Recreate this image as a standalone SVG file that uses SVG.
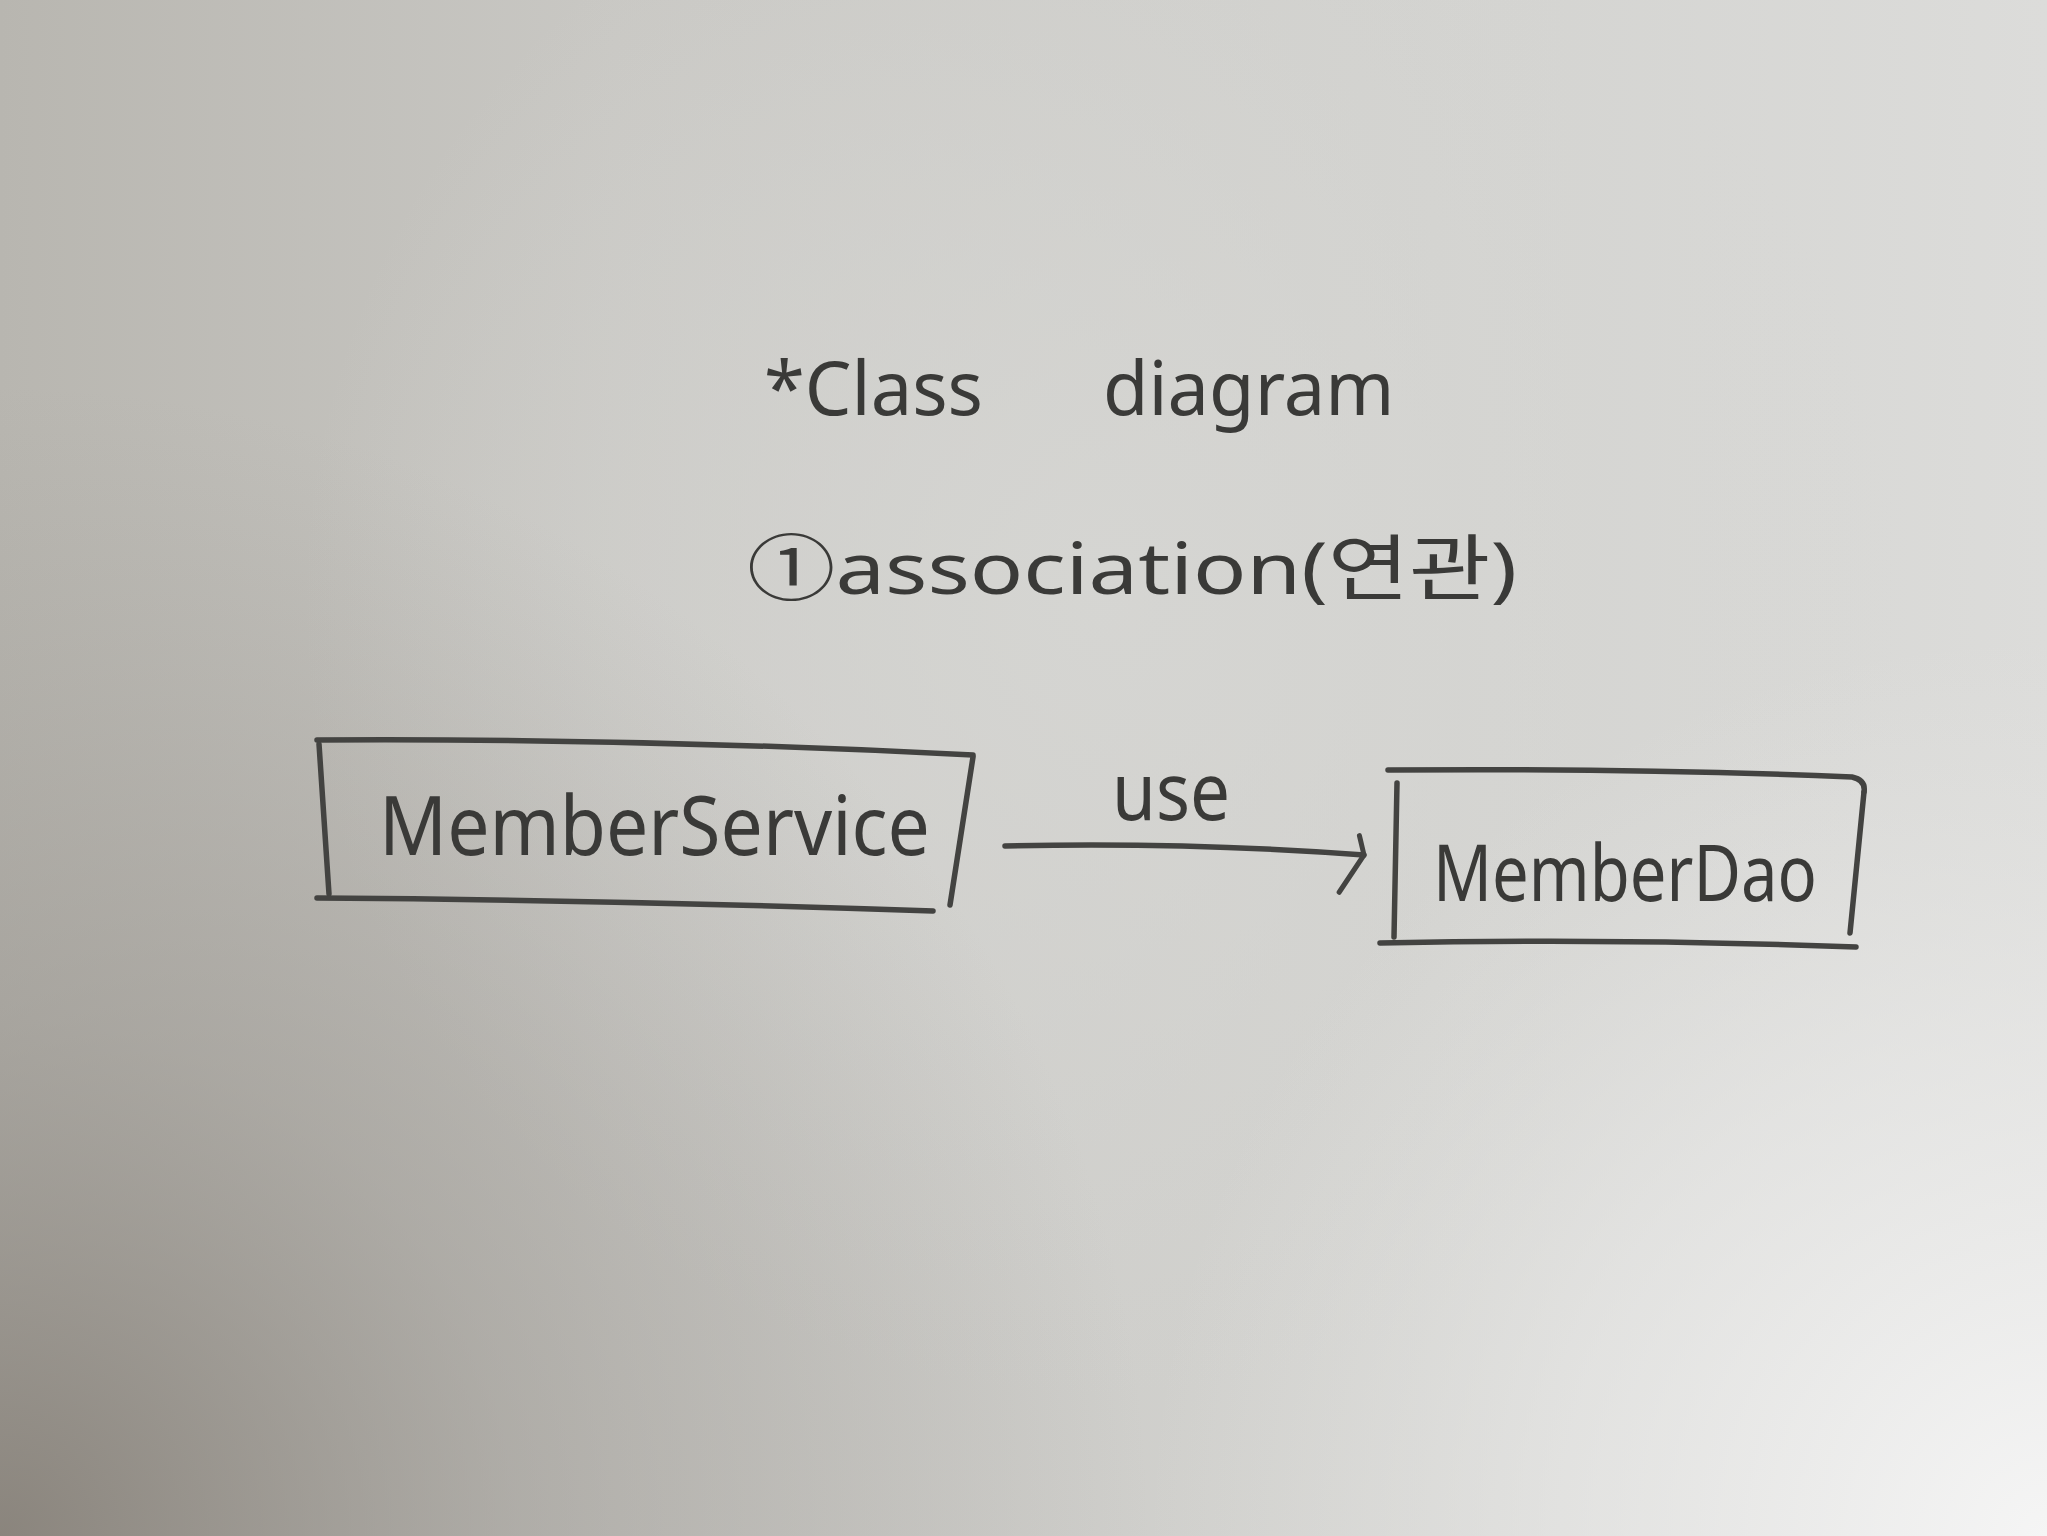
<svg xmlns="http://www.w3.org/2000/svg" width="2047" height="1536" viewBox="0 0 2047 1536">
  <defs>
    <linearGradient id="paper" x1="0" y1="0" x2="1" y2="0">
      <stop offset="0" stop-color="#b8b6b0"/>
      <stop offset="0.3" stop-color="#c9c8c4"/>
      <stop offset="0.7" stop-color="#d3d3d0"/>
      <stop offset="1" stop-color="#dcdcda"/>
    </linearGradient>
    <radialGradient id="shadeBL" cx="0" cy="1536" r="1150" gradientUnits="userSpaceOnUse">
      <stop offset="0" stop-color="#857f77" stop-opacity="0.9"/>
      <stop offset="0.45" stop-color="#938f89" stop-opacity="0.45"/>
      <stop offset="1" stop-color="#9a9792" stop-opacity="0"/>
    </radialGradient>
    <radialGradient id="lightBR" cx="2047" cy="1536" r="900" gradientUnits="userSpaceOnUse">
      <stop offset="0" stop-color="#f5f5f5" stop-opacity="1"/>
      <stop offset="0.55" stop-color="#ececeb" stop-opacity="0.55"/>
      <stop offset="1" stop-color="#e6e6e4" stop-opacity="0"/>
    </radialGradient>
    <radialGradient id="lightC" cx="1100" cy="600" r="800" gradientUnits="userSpaceOnUse">
      <stop offset="0" stop-color="#d6d6d3" stop-opacity="0.9"/>
      <stop offset="1" stop-color="#d6d6d3" stop-opacity="0"/>
    </radialGradient>
    <marker id="openArrow" markerUnits="userSpaceOnUse" markerWidth="60" markerHeight="80" refX="0" refY="0" viewBox="-40 -30 60 80" orient="auto" overflow="visible">
      <path d="M -6 -19 L 0 0 L -22 39" fill="none" stroke="#434341" stroke-width="5" stroke-linecap="round" stroke-linejoin="round"/>
    </marker>
    <style>
      .ink { fill: none; stroke: #434341; stroke-width: 5.5; stroke-linecap: round; stroke-linejoin: round; }
      .hand { fill: #3a3a38; font-family: "Noto Sans", "Liberation Sans", "Noto Sans CJK KR", sans-serif; }
    </style>
  </defs>

  <rect x="0" y="0" width="2047" height="1536" fill="url(#paper)"/>
  <rect x="0" y="0" width="2047" height="1536" fill="url(#lightC)"/>
  <rect x="0" y="0" width="2047" height="1536" fill="url(#shadeBL)"/>
  <rect x="0" y="0" width="2047" height="1536" fill="url(#lightBR)"/>

  <g id="title">
    <text class="hand" y="415" font-size="74"><tspan x="764">*Class</tspan><tspan x="1103">diagram</tspan></text>
    <text class="hand" x="747" y="594" font-size="72" textLength="770" lengthAdjust="spacingAndGlyphs">①association(연관)</text>
  </g>

  <g id="node-memberservice">
    <path class="ink" d="M 317 740 Q 640 738 973 755"/>
    <path class="ink" d="M 319 744 L 329 894"/>
    <path class="ink" d="M 973 757 L 950 905"/>
    <path class="ink" d="M 317 898 Q 620 900 933 911"/>
    <text class="hand" x="379" y="855" font-size="82" textLength="551" lengthAdjust="spacingAndGlyphs">MemberService</text>
  </g>

  <g id="node-memberdao">
    <path class="ink" d="M 1388 770 Q 1640 768 1852 777 Q 1866 780 1864 792"/>
    <path class="ink" d="M 1397 783 L 1394 937"/>
    <path class="ink" d="M 1864 792 L 1850 933"/>
    <path class="ink" d="M 1380 943 Q 1620 938 1856 947"/>
    <text class="hand" x="1433" y="901" font-size="78" textLength="384" lengthAdjust="spacingAndGlyphs">MemberDao</text>
  </g>

  <g id="connectors">
    <path class="ink" d="M 1005 846 Q 1190 842 1364 855" marker-end="url(#openArrow)"/>
    <text class="hand" x="1112" y="820" font-size="80" textLength="118" lengthAdjust="spacingAndGlyphs">use</text>
  </g>
</svg>
